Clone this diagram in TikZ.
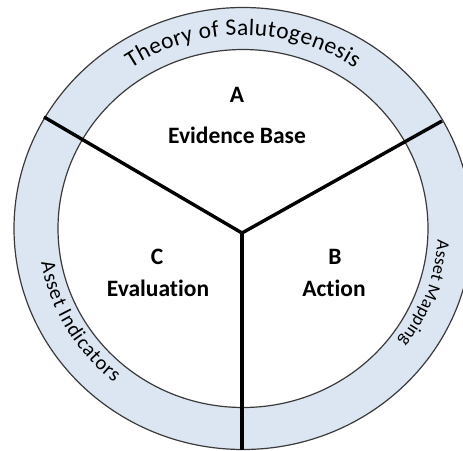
\documentclass[tikz,border=0pt]{standalone}
\usepackage{fontspec}
\setmainfont{Carlito}[Ligatures={NoCommon,NoRare,NoContextual}]
\usetikzlibrary{decorations.text}
\definecolor{bandblue}{HTML}{DCE6F2}
\definecolor{rimgray}{HTML}{3A3A3A}
\begin{document}
\begin{tikzpicture}[x=1pt,y=-1pt,
  rim/.style={draw=rimgray, line width=1.2pt},
  divider/.style={draw=black, line width=3.4pt},
  sectorlabel/.style={font=\fontsize{23.5}{28}\selectfont\bfseries, anchor=base, inner sep=0pt, text=black},
  arctext/.style={decorate, decoration={text along path, text align={fit to path}, text={#1}}}
]
\useasboundingbox (0,0) rectangle (463,450);
\coordinate (O) at (243,228.5);
\fill[bandblue] (O) ellipse [x radius=229pt, y radius=221pt];
\draw[rim] (O) ellipse [x radius=229pt, y radius=221pt];
\filldraw[rim, fill=white] (O) ellipse [x radius=185pt, y radius=179pt];

\coordinate (J) at (242,233);
\coordinate (UL) at (44,117);
\coordinate (UR) at (442,121);
\coordinate (BT) at (242,450);
\draw[divider] (UL) -- (J) -- (UR);
\draw[divider] (J) -- (BT);

\node[sectorlabel] (A) at (237,102) {A};
\node[sectorlabel] (EB) at (237,143) {Evidence Base};
\node[sectorlabel] (C) at (157,264) {C};
\node[sectorlabel] (Ev) at (158,296) {Evaluation};
\node[sectorlabel] (B) at (335,264) {B};
\node[sectorlabel] (Ac) at (334,296) {Action};

\path[arctext={|\fontsize{23.5}{26}\selectfont|Theory of Salutogenesis}]
  (O) ++(124:200pt and 193.5pt) arc[start angle=124, end angle=56, x radius=200pt, y radius=193.5pt];
\path[arctext={|\fontsize{20.5}{23}\selectfont|Asset Indicators}]
  (O) ++(190:205pt and 198pt) arc[start angle=190, end angle=231, x radius=205pt, y radius=198pt];
\path[arctext={|\fontsize{18}{20}\selectfont|Asset Mapping}]
  (O) ++(-3.5:195pt and 188pt) arc[start angle=-3.5, end angle=-37, x radius=195pt, y radius=188pt];
\end{tikzpicture}
\end{document}
